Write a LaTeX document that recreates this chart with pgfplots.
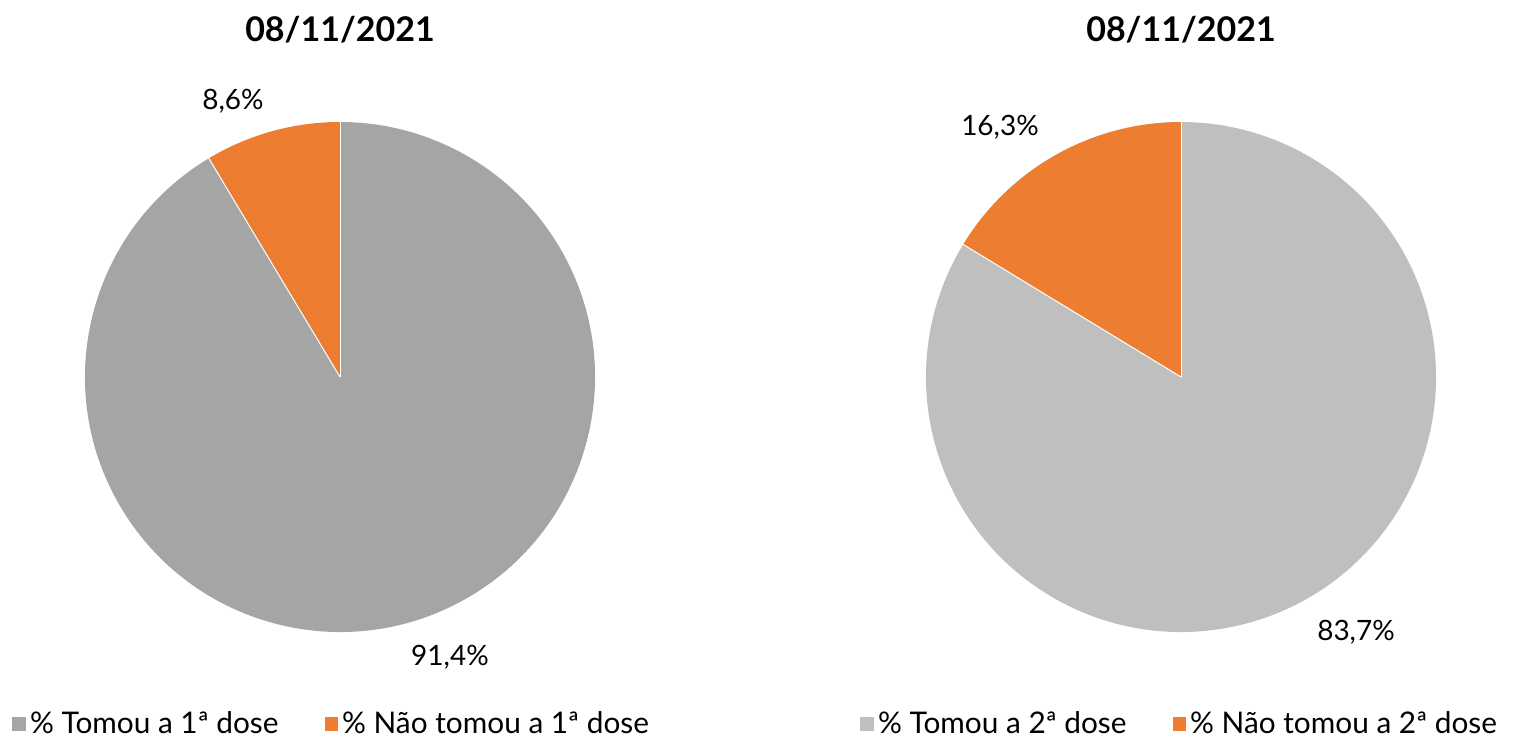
\documentclass[border=0pt]{standalone}
\usepackage{pgfplots}
\pgfplotsset{compat=1.18}
\usepackage{pgfplotstable}
\usepackage{fontspec}
\setmainfont{Lato}
\definecolor{greyA}{HTML}{A5A5A5}
\definecolor{greyB}{HTML}{BFBFBF}
\definecolor{orangeC}{HTML}{ED7D31}
\pgfplotstableread{
label value
Tomou 91.4
NaoTomou 8.6
}\dataA
\pgfplotstableread{
label value
Tomou 83.7
NaoTomou 16.3
}\dataB
\begin{document}
\begin{tikzpicture}
\useasboundingbox (0,0) rectangle (757pt,370.5pt);
\pgfplotstablegetelem{1}{value}\of\dataA
\pgfmathsetmacro\angA{90+3.6*\pgfplotsretval}
\pgfplotstablegetelem{1}{value}\of\dataB
\pgfmathsetmacro\angB{90+3.6*\pgfplotsretval}
\pgfplotsset{
  pieaxis/.style={
    scale only axis, width=378.5pt, height=370.5pt,
    ymin=0, ymax=741, hide axis, clip=false,
    legend columns=2,
    legend cell align=left,
    legend style={draw=none, fill=none, font=\fontsize{14.9}{17}\selectfont,
      /tikz/every even column/.append style={column sep=21pt},
      /tikz/every odd column/.append style={inner xsep=1pt},
      inner sep=0pt},
    legend image code/.code={\fill[##1, draw=none] (0pt,-3.4pt) rectangle (6.8pt,3.4pt);},
  }
}
\begin{axis}[pieaxis, at={(0,0)}, anchor=south west, xmin=0, xmax=757,
  legend style={at={(axis cs:12,17)}, anchor=west}]
\addlegendimage{fill=greyA, draw=none}
\addlegendentry{\% Tomou a 1ª dose}
\addlegendimage{fill=orangeC, draw=none}
\addlegendentry{\% Não tomou a 1ª dose}
\fill[orangeC] (axis cs:340,364) -- ++(90:127.5pt) arc[start angle=90, end angle=\angA, radius=127.5pt] -- cycle;
\fill[greyA] (axis cs:340,364) -- ++(\angA:127.5pt) arc[start angle=\angA, end angle=450, radius=127.5pt] -- cycle;
\draw[white, line width=0.5pt] (axis cs:340,364) -- ++(90:127.5pt);
\draw[white, line width=0.5pt] (axis cs:340,364) -- ++(\angA:127.5pt);
\node[font=\fontsize{17}{19}\selectfont\bfseries] at (axis cs:340,711) {08/11/2021};
\node[font=\fontsize{14}{16}\selectfont] at (axis cs:233,640) {8,6\%};
\node[font=\fontsize{14}{16}\selectfont] at (axis cs:450,84) {91,4\%};
\end{axis}
\begin{axis}[pieaxis, at={(378.5pt,0)}, anchor=south west, xmin=757, xmax=1514,
  legend style={at={(axis cs:860,17)}, anchor=west}]
\addlegendimage{fill=greyB, draw=none}
\addlegendentry{\% Tomou a 2ª dose}
\addlegendimage{fill=orangeC, draw=none}
\addlegendentry{\% Não tomou a 2ª dose}
\fill[orangeC] (axis cs:1181,364) -- ++(90:127.5pt) arc[start angle=90, end angle=\angB, radius=127.5pt] -- cycle;
\fill[greyB] (axis cs:1181,364) -- ++(\angB:127.5pt) arc[start angle=\angB, end angle=450, radius=127.5pt] -- cycle;
\draw[white, line width=0.5pt] (axis cs:1181,364) -- ++(90:127.5pt);
\draw[white, line width=0.5pt] (axis cs:1181,364) -- ++(\angB:127.5pt);
\node[font=\fontsize{17}{19}\selectfont\bfseries] at (axis cs:1181,711) {08/11/2021};
\node[font=\fontsize{14}{16}\selectfont] at (axis cs:1000,614) {16,3\%};
\node[font=\fontsize{14}{16}\selectfont] at (axis cs:1356,109) {83,7\%};
\end{axis}
\end{tikzpicture}
\end{document}
